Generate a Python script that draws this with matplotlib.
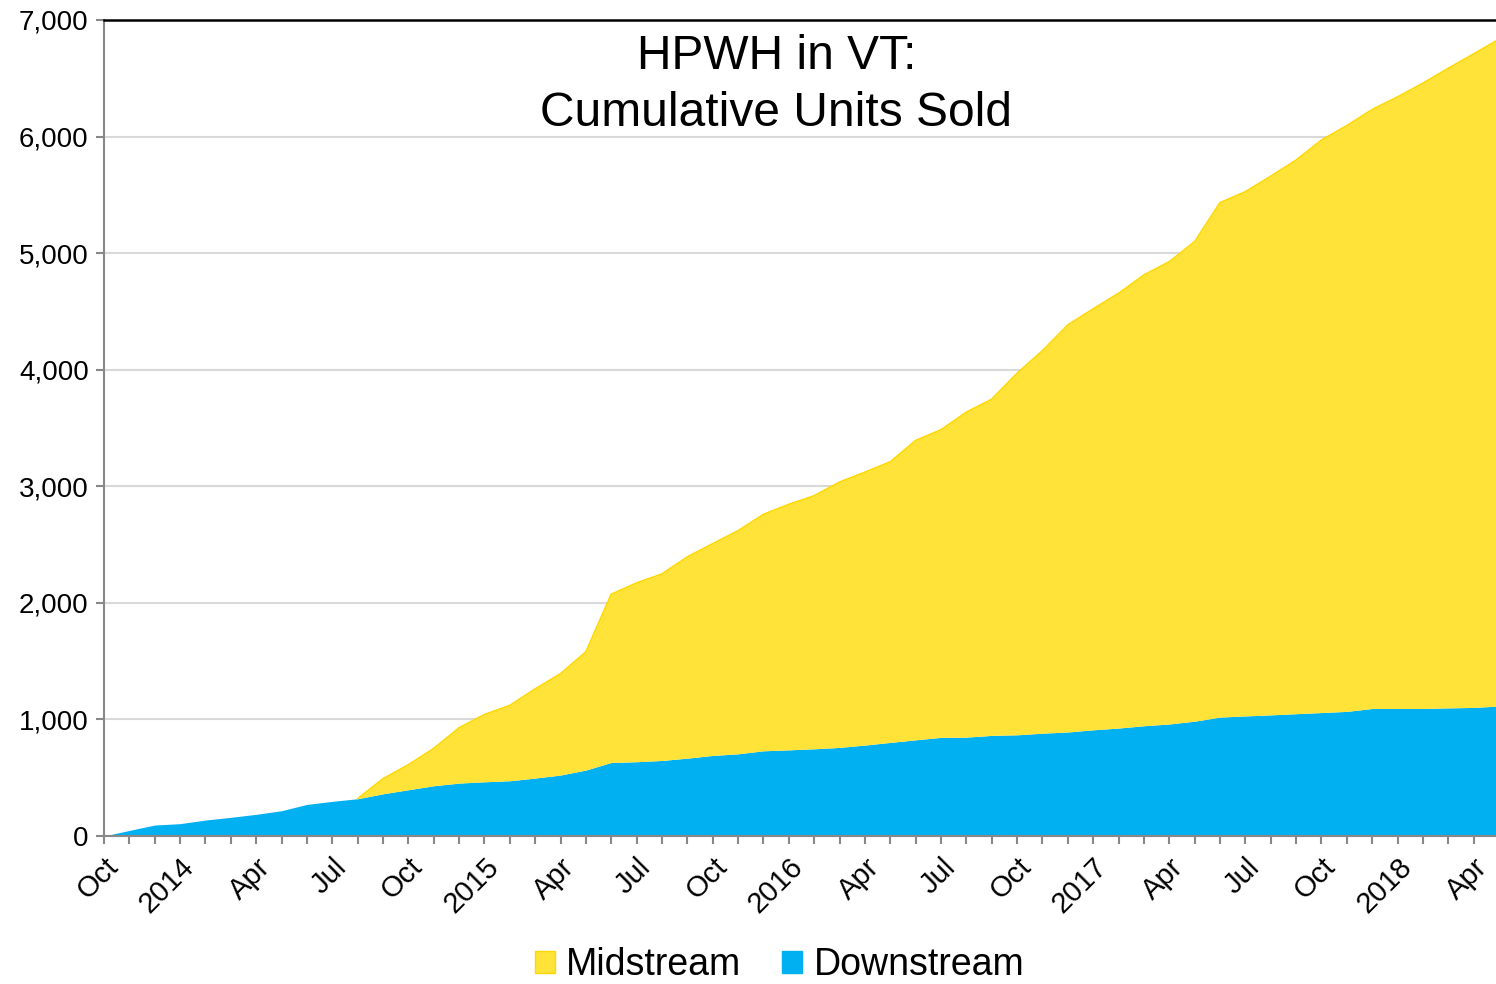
import matplotlib
matplotlib.use("Agg")
import matplotlib.pyplot as plt
from matplotlib.patches import Patch
import numpy as np

# monthly, Oct 2013 .. May 2018
downstream = [0, 48, 94, 106, 137, 160, 186, 217, 271, 297,
              320, 362, 397, 431, 454, 465, 474, 497, 523, 566,
              631, 637, 648, 668, 691, 705, 731, 739, 748, 760,
              780, 803, 825, 846, 848, 863, 868, 882, 892, 911,
              926, 946, 961, 985, 1020, 1030, 1039, 1049, 1059, 1069,
              1094, 1094, 1094, 1099, 1103, 1115]
total = [0, 48, 94, 106, 137, 160, 186, 217, 271, 297,
         320, 491, 611, 751, 928, 1042, 1120, 1262, 1392, 1580,
         2074, 2171, 2248, 2394, 2508, 2619, 2759, 2845, 2919, 3036,
         3121, 3210, 3393, 3485, 3636, 3747, 3970, 4163, 4384, 4522,
         4655, 4813, 4926, 5099, 5433, 5527, 5660, 5798, 5970, 6094,
         6232, 6340, 6458, 6586, 6709, 6835]
tick_labels = ["Oct", "2014", "Apr", "Jul", "Oct", "2015", "Apr", "Jul",
               "Oct", "2016", "Apr", "Jul", "Oct", "2017", "Apr", "Jul",
               "Oct", "2018", "Apr"]

downstream = np.array(downstream)
midstream = np.array(total) - downstream
x = np.arange(len(downstream))

yellow = "#FFE339"
blue = "#00B0F0"

plt.rcParams["font.family"] = ["Liberation Sans", "DejaVu Sans"]

fig = plt.figure(figsize=(14.96, 9.84), dpi=100)
ax = fig.add_axes([0.0695, 0.1504, 0.9305, 0.8293])

ax.fill_between(x, 0, downstream, color=blue, lw=0)
ax.fill_between(x, downstream, downstream + midstream, color=yellow, lw=0)
ax.plot(x[10:], (downstream + midstream)[10:], color="#FFD800", lw=1.2)

ax.set_xlim(0, 54.88)
ax.set_ylim(0, 7000)
ax.set_yticks(np.arange(0, 7001, 1000))
ax.set_yticklabels([f"{v:,}" for v in range(0, 7001, 1000)])
ax.yaxis.grid(True, color="#D9D9D9", lw=1.5)
ax.set_axisbelow(True)

ax.set_xticks(np.arange(0, 55, 3))
ax.set_xticklabels(tick_labels, rotation=45, ha="right",
                   rotation_mode="anchor", fontsize=21)
ax.set_xticks(np.arange(0, 55), minor=True)
ax.tick_params(axis="x", which="both", length=6, color="#888888", width=1.5, pad=6)
ax.tick_params(axis="y", length=6, color="#888888", width=1.5, labelsize=20, pad=5)

for s in ["left", "bottom"]:
    ax.spines[s].set_color("#888888")
    ax.spines[s].set_linewidth(1.5)
ax.spines["right"].set_visible(False)
ax.spines["top"].set_color("black")
ax.spines["top"].set_linewidth(1.8)

fig.text(0.519, 0.943, "HPWH in VT:", ha="center", va="center", fontsize=34.5)
fig.text(0.519, 0.885, "Cumulative Units Sold", ha="center", va="center", fontsize=34.5)

handles = [Patch(facecolor=yellow, edgecolor="#FFD800"),
           Patch(facecolor=blue, edgecolor=blue)]
fig.legend(handles, ["Midstream", "Downstream"], loc="center",
           bbox_to_anchor=(0.521, 0.019), ncol=2, frameon=False, fontsize=27,
           handlelength=0.53, handleheight=0.53, handletextpad=0.3, columnspacing=1.1)

fig.savefig("out.png", dpi=100)
plt.close(fig)
